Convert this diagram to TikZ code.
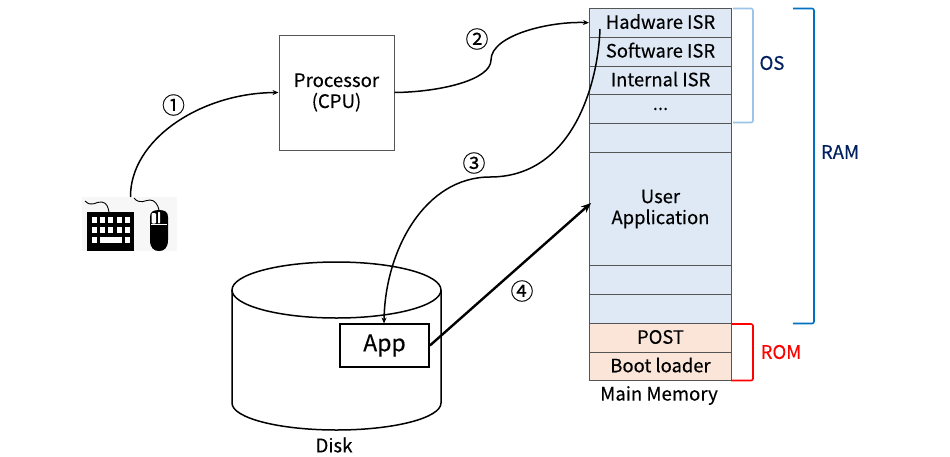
\documentclass[tikz,border=0pt]{standalone}
\usepackage{fontspec}
\setmainfont{Noto Sans CJK KR}[FakeBold=0.25]
\usetikzlibrary{arrows.meta,calc}
\definecolor{memblue}{HTML}{DEE9F5}
\definecolor{memorange}{HTML}{FBE5D8}
\definecolor{memline}{HTML}{555555}
\definecolor{osbrace}{HTML}{9DC3E6}
\definecolor{rambrace}{HTML}{0070C0}
\definecolor{navy}{HTML}{002060}
\definecolor{iconbg}{HTML}{F7F7F7}
\tikzset{
  memcell/.style={draw=memline,line width=1pt,fill=memblue,minimum width=142pt,anchor=north west,inner sep=0pt,font=\fontsize{18.4pt}{21pt}\selectfont,align=center,text height=17pt,text depth=5pt},
  romcell/.style={memcell,fill=memorange},
  plain/.style={font=\fontsize{18.6pt}{21pt}\selectfont,inner sep=0pt,align=center},
  stepnum/.style={font=\fontsize{23pt}{25pt}\selectfont,inner sep=0pt},
  flow/.style={line width=1.5pt,-{Stealth[length=6pt,width=5pt]}},
  bracket/.style={line width=1.6pt,rounded corners=2pt},
}
\begin{document}
\begin{tikzpicture}[x=1pt,y=-1pt]
\useasboundingbox (0,0) rectangle (950,456);
\fill[white] (0,0) rectangle (950,456);
% memory
\node[memcell,minimum height=28.5pt] (m1) at (589,8) {Hadware ISR};
\node[memcell,minimum height=29pt] (m2) at (589,36.5) {Software ISR};
\node[memcell,minimum height=28.5pt] (m3) at (589,65.5) {Internal ISR};
\node[memcell,minimum height=29pt] (m4) at (589,94) {\raisebox{5pt}{...}};
\node[memcell,minimum height=29pt] (m5) at (589,123) {};
\node[memcell,minimum height=113pt,text height=,text depth=] (m6) at (589,152) {User\\Application};
\node[memcell,minimum height=29pt] (m7) at (589,265) {};
\node[memcell,minimum height=29pt] (m8) at (589,294) {};
\node[romcell,minimum height=28.5pt] (m9) at (589,323) {POST};
\node[romcell,minimum height=28.5pt] (m10) at (589,351.5) {Boot loader};
\node[plain] (mm) at (659,395.5) {Main Memory};
% processor
\node[draw=memline,line width=1pt,minimum width=115pt,minimum height=115pt,inner sep=0pt,plain] (cpu) at (336.5,92.5) {Processor\\(CPU)};
% disk
\coordinate (dl) at (232,290);
\coordinate (dr) at (441,290);
\draw[line width=1.5pt] (336.5,290) ellipse [x radius=104.5pt,y radius=28pt];
\draw[line width=1.5pt] (dl) -- (232,403) arc[start angle=180,end angle=360,x radius=104.5pt,y radius=27pt] -- (dr);
\node[draw,line width=1.8pt,fill=white,minimum width=89pt,minimum height=43pt,inner sep=0pt,font=\fontsize{23pt}{25pt}\selectfont] (app) at (384.5,345.5) {App};
\node[plain] (disk) at (334,445) {Disk};
% icons
\fill[iconbg] (82,197) rectangle (177,251);
\fill[black] (87.3,212) rectangle (134,250.7);
\foreach \x in {91.7,100,108.3,116.7,125}{
  \fill[white] (\x,216.7) rectangle ++(5,6);
  \fill[white] (\x,226.7) rectangle ++(5,6);
}
\fill[white] (91.7,237.3) rectangle ++(5,5.4);
\fill[white] (100,237.3) rectangle ++(21.7,5.4);
\fill[white] (125,237.3) rectangle ++(5,5.4);
\draw[line width=.9pt] (85,201) .. controls (92,208) and (96,201) .. (102,202) .. controls (107,203) and (108,207) .. (109,212);
\fill[black] (150,226) -- (150,217) .. controls (150,212) and (153,210) .. (159,210) .. controls (165,210) and (168,212) .. (168,217) -- (168,240) .. controls (168,248) and (164,251) .. (159,251) .. controls (154,251) and (150,248) .. (150,240) -- cycle;
\fill[white] (151.3,223.5) rectangle (166.7,225);
\fill[white,rounded corners=1pt] (151.7,213) rectangle (156,223.5);
\fill[white,rounded corners=1pt] (158,211.5) rectangle (160,223.5);
\draw[line width=.9pt] (134,198) .. controls (140,205) and (145,200) .. (150,200) .. controls (155,200) and (158,205) .. (159,210);
\coordinate (kb) at (130.5,197);
% connectors
\draw[flow] (kb) .. controls (130,140) and (200,93) .. (cpu.west);
\draw[flow] (cpu.east) .. controls (440,92) and (491,80) .. (491,60) .. controls (491,35) and (550,21) .. (m1.west);
\coordinate (isr) at (600,29);
\draw[flow] (isr) .. controls (598,85) and (572,177) .. (490,177) .. controls (425,177) and (385,250) .. (384,323.5);
\draw[line width=2.4pt,-{Stealth[length=10pt,width=8pt]}] (app.east) -- (591,203);
% braces
\draw[osbrace,bracket] (733,8.5) -- (753,8.5) -- (753,122.5) -- (733,122.5);
\draw[rambrace,bracket] (793,8.5) -- (814,8.5) -- (814,323.5) -- (793,323.5);
\draw[red,bracket] (731,324) -- (753,324) -- (753,380.5) -- (731,380.5);
% labels
\node[plain,text=navy] (os) at (772,63) {OS};
\node[plain,text=navy] (ram) at (840,152) {RAM};
\node[plain,text=red] (rom) at (781,352) {ROM};
\node[stepnum] (s1) at (173.5,105) {①};
\node[stepnum] (s2) at (477,39) {②};
\node[stepnum] (s3) at (474,163) {③};
\node[stepnum] (s4) at (522,291) {④};
\end{tikzpicture}
\end{document}
